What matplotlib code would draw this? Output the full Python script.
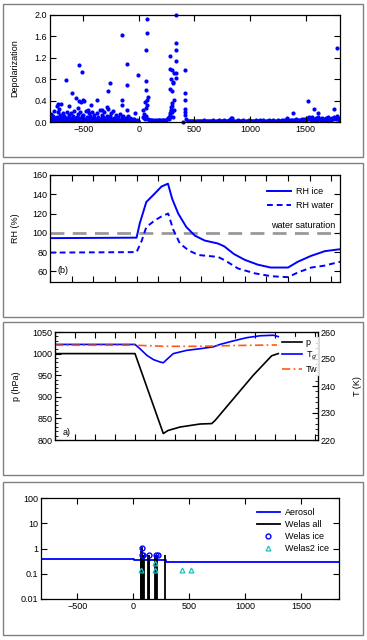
import numpy as np
import matplotlib
matplotlib.use("Agg")
import matplotlib.pyplot as plt
from matplotlib.patches import Rectangle
from matplotlib.ticker import MultipleLocator, FixedLocator, NullFormatter

plt.rcParams["font.family"] = ["Liberation Sans", "DejaVu Sans"]
plt.rcParams["font.size"] = 6.5

W, H = 367, 640

# ---- panel 1: depolarization ----
band_a_y = [0.08, 0.15, 0.05, 0.12, 0.20, 0.03, 0.10, 0.18, 0.06, 0.14,
            0.09, 0.02, 0.16, 0.11, 0.07, 0.19, 0.04, 0.13, 0.08, 0.17,
            0.05, 0.12, 0.21, 0.03, 0.10, 0.15, 0.07, 0.18, 0.04, 0.11,
            0.14, 0.06, 0.20, 0.09, 0.02, 0.16, 0.12, 0.05, 0.19, 0.08,
            0.13, 0.03, 0.17, 0.10, 0.06, 0.22, 0.04, 0.14, 0.09, 0.18,
            0.07, 0.12, 0.25, 0.05, 0.11, 0.16, 0.03, 0.20, 0.08, 0.13,
            0.06, 0.10, 0.04, 0.15, 0.02, 0.09, 0.12, 0.05, 0.07, 0.03,
            0.11, 0.04, 0.08, 0.02, 0.06, 0.03, 0.05, 0.02, 0.04, 0.01]
band_b_y = [0.02, 0.05, 0.01, 0.04, 0.07, 0.03, 0.06, 0.02, 0.05, 0.08,
            0.01, 0.04, 0.06, 0.03, 0.02, 0.07, 0.05, 0.01, 0.04, 0.06,
            0.03, 0.08, 0.02, 0.05, 0.04, 0.01, 0.06, 0.03, 0.07, 0.02,
            0.05, 0.04, 0.01, 0.06, 0.03, 0.08, 0.02, 0.05, 0.04, 0.07,
            0.01, 0.06, 0.03, 0.05, 0.02, 0.04, 0.07, 0.01, 0.05, 0.03,
            0.06, 0.02, 0.04, 0.08, 0.01, 0.05, 0.03, 0.06, 0.02, 0.04,
            0.01, 0.05, 0.03, 0.02, 0.06, 0.01, 0.04, 0.02, 0.03, 0.01,
            0.02, 0.04, 0.01, 0.03, 0.02, 0.01, 0.02, 0.01, 0.02, 0.01]
trail_y = [0.06, 0.04, 0.03, 0.03, 0.03, 0.02, 0.03, 0.03, 0.02, 0.03,
           0.03, 0.03, 0.02, 0.03, 0.03, 0.04, 0.04, 0.05, 0.07]
tail_y = [0.02, 0.01, 0.02, 0.01, 0.02, 0.02, 0.01, 0.02, 0.01, 0.02,
          0.01, 0.02, 0.02, 0.01, 0.02, 0.03, 0.01, 0.02, 0.02, 0.01,
          0.02, 0.01, 0.02, 0.03, 0.02, 0.01, 0.02, 0.02, 0.03, 0.02,
          0.01, 0.02, 0.02, 0.03, 0.02, 0.01, 0.02, 0.03, 0.04, 0.08,
          0.04, 0.02, 0.01, 0.02, 0.02, 0.03, 0.02, 0.01, 0.02, 0.02,
          0.03, 0.02, 0.01, 0.02, 0.02, 0.03, 0.02, 0.02, 0.01, 0.02,
          0.02, 0.03, 0.02, 0.01, 0.02, 0.03, 0.02, 0.02, 0.03, 0.02,
          0.01, 0.02, 0.02, 0.03, 0.02, 0.02, 0.01, 0.03, 0.02, 0.02,
          0.02, 0.03, 0.02, 0.01, 0.02, 0.03, 0.02, 0.04, 0.03, 0.08,
          0.04, 0.03, 0.02, 0.03, 0.04, 0.02, 0.03, 0.05, 0.03, 0.02,
          0.03, 0.04, 0.02, 0.05, 0.03, 0.06, 0.04, 0.08, 0.05, 0.10,
          0.06, 0.04, 0.09, 0.05, 0.03, 0.07, 0.04, 0.10, 0.06, 0.05,
          0.03, 0.08, 0.05, 0.04, 0.07, 0.03, 0.09, 0.05, 0.06, 0.04,
          0.08, 0.05, 0.10, 0.06, 0.12, 0.07, 0.04]
spike_x = [-657, -737, -716, -701, -731, -603, -567, -627, -537, -513,
           -540, -525, -505, -490, -546, -457, -427, -373, -328, -278,
           -260, -284, -149, -149, -149, -104, -104, -104, -9, -36,
           75, 69, 60, 60, 66, 75, 51, 39, 60, 84, 69, 40, 45, 50, 55, 65,
           284, 284, 299, 313, 290, 307, 307, 284, 299, 299, 290, 284, 284,
           270, 275, 280, 285, 290, 295, 300, 305,
           334, 334, 337, 337, 337, 334, 319, 313,
           418, 418, 412, 412, 418, 412, 400, 420,
           836, 1388, 1522, 1573, 1612, 1755, 1782]
spike_y = [0.78, 0.29, 0.25, 0.34, 0.33, 0.55, 0.45, 0.29, 1.06, 0.94,
           0.40, 0.38, 0.41, 0.40, 0.27, 0.22, 0.31, 0.41, 0.23, 0.58,
           0.73, 0.28, 1.62, 0.41, 0.31, 1.09, 0.69, 0.22, 0.87, 0.16,
           1.92, 1.67, 1.34, 0.77, 0.59, 0.42, 0.37, 0.22, 0.27, 0.47, 0.31,
           0.10, 0.15, 0.08, 0.05, 0.12,
           1.23, 1.00, 0.97, 0.92, 0.81, 0.75, 0.72, 0.62, 0.58, 0.36, 0.22,
           0.16, 0.09, 0.05, 0.10, 0.13, 0.20, 0.28, 0.30, 0.18, 0.10,
           2.00, 1.47, 1.34, 1.14, 0.92, 0.83, 0.41, 0.22,
           0.98, 0.55, 0.41, 0.25, 0.19, 0.125, 0.0, 0.05,
           0.08, 0.17, 0.39, 0.25, 0.16, 0.24, 1.39]

# ---- panel 2: relative humidity ----
rh_ice_x = [-800, 0, 30, 90, 170, 230, 290, 330, 385, 460, 540, 630, 750,
            810, 900, 1000, 1120, 1240, 1400, 1490, 1610, 1740, 1880]
rh_ice = [94.5, 95, 110, 132, 141, 148, 151, 135, 120, 106, 97, 92, 89,
          86, 78, 72, 67, 64, 64, 70, 76, 81, 83]
rh_wat_x = [-800, 0, 45, 90, 170, 230, 292, 340, 400, 478, 570, 754, 815,
            938, 1092, 1246, 1400, 1492, 1615, 1738, 1880]
rh_wat = [79.5, 80, 91, 106, 113, 117, 120, 103, 89, 82, 77, 75, 71.5,
          63, 58, 55, 54, 59, 64, 66, 70]

# ---- panel 3: pressure and temperature ----
p_x = [-800, 0, 283, 330, 450, 650, 767, 800, 1183, 1367, 1433]
p_val = [1000, 1000, 815, 822, 830, 837, 838, 845, 950, 995, 1000]
tg_x = [-800, 0, 50, 117, 183, 250, 283, 317, 383, 450, 517, 650, 783,
        850, 983, 1117, 1250, 1383, 1433]
tg_val = [255.4, 255.4, 253.8, 251.4, 249.8, 248.9, 248.6, 249.8, 252.0,
          252.6, 253.2, 253.8, 254.5, 255.4, 256.7, 257.9, 258.6, 258.8, 258.3]
tw_x = [-800, 0, 300, 650, 1000, 1420]
tw_val = [255.1, 255.1, 254.7, 254.7, 255.0, 255.2]

# ---- panel 4: particle counts ----
aer_x = [-825, 10, 10, 290, 290, 1840]
aer_val = [0.37, 0.37, 0.34, 0.34, 0.30, 0.30]
welas_x = [68, 72, 76, 80, 84, 88, 92, 135, 140, 145, 195, 200, 212, 285]
welas_val = [0.55, 0.8, 1.1, 0.9, 0.55, 0.55, 0.55, 0.55, 0.55, 0.55,
             0.55, 0.55, 0.55, 0.55]
ice_x = [81, 81, 90, 143, 203, 224]
ice_val = [1.05, 0.55, 0.55, 0.55, 0.55, 0.55]
ice2_x = [66, 194, 194, 433, 513]
ice2_val = [0.14, 0.14, 0.26, 0.14, 0.14]


def px_axes(fig, l, t, r, b):
    return fig.add_axes([l / W, 1 - b / H, (r - l) / W, (b - t) / H])


def style(ax):
    ax.tick_params(direction="in", top=True, right=True, length=4,
                   width=0.8, pad=2, labelsize=6.5)
    ax.tick_params(which="minor", direction="in", top=True, right=True,
                   length=2, width=0.6)
    for s in ax.spines.values():
        s.set_linewidth(0.9)


fig = plt.figure(figsize=(W / 100, H / 100), dpi=100)

for (l, t, r, b) in [(3, 4, 363, 157), (3, 163, 363, 317),
                     (3, 322, 363, 475), (3, 482, 363, 635)]:
    fig.patches.append(Rectangle((l / W, 1 - b / H), (r - l) / W, (b - t) / H,
                                 transform=fig.transFigure, fill=False,
                                 edgecolor="#808080", lw=1))

blue = "#0000FF"

# panel 1
ax1 = px_axes(fig, 50, 15, 340, 122)
style(ax1)
ms = 9
ax1.scatter(np.arange(-800, 0, 10), band_a_y, s=ms, color=blue, lw=0)
ax1.scatter(np.arange(-795, 5, 10), band_b_y, s=ms, color=blue, lw=0)
ax1.scatter(np.arange(80, 270, 10), trail_y, s=ms, color=blue, lw=0)
ax1.scatter(np.arange(440, 1810, 10), tail_y, s=ms, color=blue, lw=0)
ax1.scatter(spike_x, spike_y, s=ms, color=blue, lw=0, clip_on=False)
ax1.set_xlim(-800, 1810)
ax1.set_ylim(0, 2.0)
ax1.set_xticks([-500, 0, 500, 1000, 1500])
ax1.set_yticks([0.0, 0.4, 0.8, 1.2, 1.6, 2.0])
ax1.set_yticklabels(["0.0", "0.4", "0.8", "1.2", "1.6", "2.0"])
ax1.set_ylabel("Depolarization", labelpad=11)

# panel 2
ax2 = px_axes(fig, 50, 175, 340, 282)
style(ax2)
ax2.axhline(100, color="#999999", lw=2, dashes=(5, 3))
ax2.plot(rh_ice_x, rh_ice, color=blue, lw=1.4, label="RH ice")
ax2.plot(rh_wat_x, rh_wat, color=blue, lw=1.4, dashes=(3, 2), label="RH water")
ax2.set_xlim(-800, 1880)
ax2.set_ylim(49, 160)
ax2.xaxis.set_major_locator(MultipleLocator(200))
ax2.xaxis.set_major_formatter(NullFormatter())
ax2.set_yticks([60, 80, 100, 120, 140, 160])
ax2.set_ylabel("RH (%)", labelpad=9)
ax2.text(1240, 103, "water saturation", fontsize=6.5, va="bottom")
ax2.text(-730, 56, "(b)", fontsize=6.5, va="bottom")
ax2.legend(loc="upper right", bbox_to_anchor=(0.99, 0.92), frameon=False,
           fontsize=6.5, handlelength=2.6, handletextpad=0.6,
           labelspacing=0.5, borderaxespad=0)

# panel 3
ax3 = px_axes(fig, 55, 332, 318, 440)
style(ax3)
ax3.tick_params(right=False)
ax3b = ax3.twinx()
ax3b.tick_params(direction="in", length=4, width=0.8, pad=2, labelsize=6.5)
ax3b.tick_params(which="minor", direction="in", length=2, width=0.6)
l1, = ax3.plot(p_x, p_val, color="black", lw=1.2, label="p")
l2, = ax3b.plot(tg_x, tg_val, color=blue, lw=1.2, label="T$_g$")
l3, = ax3b.plot(tw_x, tw_val, color="#FF5A14", lw=1.2, dashes=(5, 2, 1, 2),
                label="Tw")
ax3.set_xlim(-800, 1830)
ax3.set_ylim(800, 1050)
ax3b.set_ylim(220, 260)
ax3.xaxis.set_major_locator(MultipleLocator(200))
ax3.xaxis.set_major_formatter(NullFormatter())
ax3.yaxis.set_major_locator(MultipleLocator(50))
ax3.yaxis.set_minor_locator(MultipleLocator(10))
ax3b.yaxis.set_major_locator(MultipleLocator(10))
ax3b.yaxis.set_minor_locator(MultipleLocator(2))
ax3.set_ylabel("p (hPa)", labelpad=8)
ax3b.set_ylabel("T (K)", labelpad=12)
ax3.text(-720, 808, "a)", fontsize=6.5, va="bottom")
leg3 = ax3b.legend(handles=[l1, l2, l3], loc="upper right",
                   bbox_to_anchor=(1.0, 0.95), frameon=True, fontsize=6.5,
                   handlelength=2.2, handletextpad=0.4, labelspacing=0.3,
                   borderaxespad=0, borderpad=0.1, fancybox=False)
leg3.get_frame().set_edgecolor("white")
leg3.get_frame().set_facecolor("white")

# panel 4
ax4 = px_axes(fig, 41, 498, 339, 599)
style(ax4)
ax4.set_yscale("log")
ax4.plot(aer_x, aer_val, color=blue, lw=1.3, label="Aerosol")
ax4.vlines(welas_x, 0.01, welas_val, color="black", lw=1.3)
ax4.plot([], [], color="black", lw=1.3, label="Welas all")
ax4.plot(ice_x, ice_val, "o", mfc="none", mec=blue, ms=3.5, mew=1,
         label="Welas ice")
ax4.plot(ice2_x, ice2_val, "^", mfc="none", mec="#20C0C0", ms=3.5, mew=0.9,
         label="Welas2 ice")
ax4.set_xlim(-825, 1840)
ax4.set_ylim(0.01, 100)
ax4.set_xticks([-500, 0, 500, 1000, 1500])
ax4.yaxis.set_major_locator(FixedLocator([0.01, 0.1, 1, 10, 100]))
ax4.yaxis.set_minor_locator(FixedLocator([]))
ax4.set_yticklabels(["0.01", "0.1", "1", "10", "100"])
ax4.legend(loc="upper right", bbox_to_anchor=(0.98, 0.94), frameon=False,
           fontsize=6.5, handlelength=2.6, handletextpad=0.6,
           labelspacing=0.35, borderaxespad=0)

fig.savefig("out.png", dpi=100)
